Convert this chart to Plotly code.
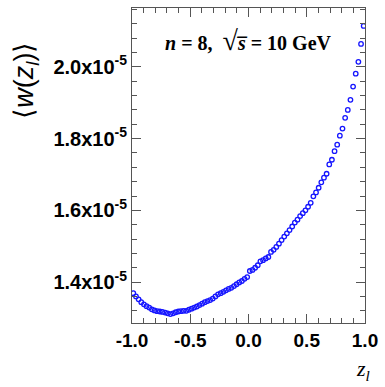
import numpy as np
import plotly.graph_objects as go

# <w(z_l)> in units of 1e-5 (88 bins over z_l in [-1, 1])
n_bins = 88
w_mean_e5 = [
    1.369, 1.360, 1.352, 1.344, 1.338, 1.333, 1.329, 1.324, 1.321, 1.319,
    1.318, 1.317, 1.315, 1.313, 1.311, 1.313, 1.316, 1.318, 1.319, 1.320,
    1.320, 1.323, 1.326, 1.329, 1.332, 1.336, 1.340, 1.344, 1.347, 1.350,
    1.354, 1.360, 1.366, 1.369, 1.373, 1.377, 1.381, 1.384, 1.389, 1.394,
    1.399, 1.403, 1.409, 1.414, 1.431, 1.434, 1.440, 1.447, 1.458, 1.461,
    1.466, 1.470, 1.484, 1.490, 1.498, 1.507, 1.517, 1.527, 1.536, 1.545,
    1.555, 1.566, 1.574, 1.584, 1.592, 1.600, 1.610, 1.621, 1.639, 1.650,
    1.663, 1.678, 1.691, 1.702, 1.728, 1.741, 1.765, 1.783, 1.808, 1.828,
    1.858, 1.880, 1.908, 1.945, 1.981, 2.014, 2.064, 2.114,
]
x_tick_vals = [-1.0, -0.5, 0.0, 0.5, 1.0]
x_tick_text = ["-1.0", "-0.5", "0.0", "0.5", "1.0"]
y_tick_vals_e5 = [1.4, 1.6, 1.8, 2.0]
y_tick_text = ["1.4x10<sup>-5</sup>", "1.6x10<sup>-5</sup>",
               "1.8x10<sup>-5</sup>", "2.0x10<sup>-5</sup>"]

edges = np.linspace(-1.0, 1.0, n_bins + 1)
z_l = 0.5 * (edges[:-1] + edges[1:])
w_mean = np.array(w_mean_e5) * 1e-5

fig = go.Figure()
fig.add_trace(go.Scatter(
    x=z_l, y=w_mean, mode="markers",
    marker=dict(symbol="circle-open", size=4.5, color="#1515ff",
                line=dict(width=1.3, color="#1515ff")),
    showlegend=False,
))

x_tick_font = dict(family="Liberation Sans, Arial, sans-serif", size=19,
                   color="black", weight="bold")
y_tick_font = dict(family="Liberation Sans, Arial, sans-serif", size=20,
                   color="black", weight="bold")

fig.update_layout(
    width=385, height=387,
    margin=dict(l=132, r=18, t=7, b=64),
    paper_bgcolor="white", plot_bgcolor="white",
    xaxis=dict(
        range=[-1.0, 1.0], tickmode="array", tickvals=x_tick_vals,
        ticktext=x_tick_text, ticks="inside", ticklen=9, tickwidth=1,
        tickcolor="#555", showline=True, linecolor="#555", linewidth=1,
        mirror="allticks", showgrid=False, zeroline=False,
        tickfont=x_tick_font,
        minor=dict(tickmode="linear", tick0=-1.0, dtick=0.1, ticks="inside",
                   ticklen=5, tickcolor="#555", showgrid=False),
    ),
    yaxis=dict(
        range=[1.286e-5, 2.164e-5], tickmode="array",
        tickvals=[v * 1e-5 for v in y_tick_vals_e5], ticktext=y_tick_text,
        ticks="inside", ticklen=9, tickwidth=1, tickcolor="#555",
        showline=True, linecolor="#555", linewidth=1, mirror="allticks",
        showgrid=False, zeroline=False, tickfont=y_tick_font,
        minor=dict(tickmode="linear", tick0=1.4e-5, dtick=0.04e-5,
                   ticks="inside", ticklen=5, tickcolor="#555",
                   showgrid=False),
    ),
)

fig.add_annotation(
    xref="paper", yref="paper", x=0.498, y=0.896,
    text="<b><i>n</i> = 8,  <span style='font-size:28px'>√</span><i>s̅</i> = 10 GeV</b>",
    showarrow=False, xanchor="center", yanchor="middle",
    font=dict(family="Liberation Serif, Times New Roman, serif", size=20,
              color="black"),
)
fig.add_annotation(
    xref="paper", yref="paper", x=-0.455, y=0.772,
    text="⟨<i>w</i>(<i>z</i><sub><i>l</i></sub>)⟩",
    textangle=-90, showarrow=False, xanchor="center", yanchor="middle",
    font=dict(family="Liberation Sans, Arial, sans-serif", size=27,
              color="black"),
)
fig.add_annotation(
    xref="paper", yref="paper", x=1.03, y=-0.097,
    text="<i>z</i><sub><i>l</i></sub>",
    showarrow=False, xanchor="right", yanchor="top",
    font=dict(family="Liberation Serif, Times New Roman, serif", size=22,
              color="black"),
)

fig.write_html("out.html",
               config={"displayModeBar": False},
               post_script="document.body.style.margin='0';")
